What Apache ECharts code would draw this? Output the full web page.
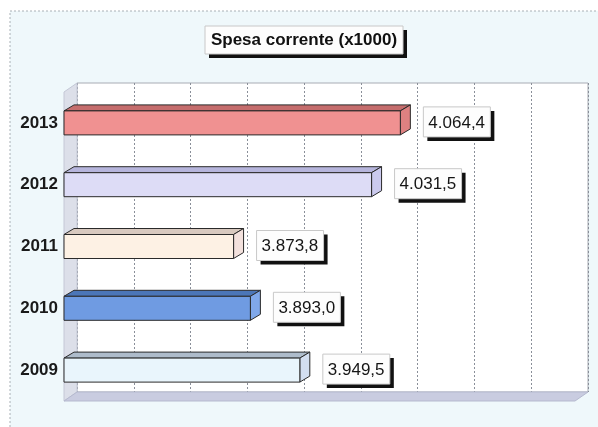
<!DOCTYPE html>
<html>
<head>
<meta charset="utf-8">
<script src="https://cdn.jsdelivr.net/npm/echarts@6/dist/echarts.min.js"></script>
<style>
  html, body { margin: 0; padding: 0; background: #ffffff; }
  #chart { width: 598px; height: 427px; }
</style>
</head>
<body>
<div id="chart"></div>
<script>
// Spesa corrente (x1000), 2009–2013
const categories = ['2009', '2010', '2011', '2012', '2013'];
const values = [3949.5, 3893.0, 3873.8, 4031.5, 4064.4];
const titleText = 'Spesa corrente (x1000)';

// face colours per year: front, top, side
const barPalette = [
  ['#e9f5fc', '#aebccb', '#d3def0'],
  ['#6f9be2', '#4b76b8', '#80a8ea'],
  ['#fdf1e4', '#d8c9bf', '#f3e1dd'],
  ['#dddcf6', '#b6b5dc', '#cbcaee'],
  ['#f09191', '#c56d6d', '#de8181']
];

// value scale of the bar plane
const X_MIN = 3680, X_MAX = 4264;

// plot layout: front plane and back wall (3D depth offset)
const FRONT = { left: 64, top: 92, width: 511, height: 309 };
const DEPTH = { dx: 13, dy: -9 };
const BAR_DEPTH = { dx: 10, dy: -6 };
const BAR_H = 24;

function fmtIt(v) {
  const parts = v.toFixed(1).split('.');
  const int = parts[0].replace(/\B(?=(\d{3})+(?!\d))/g, '.');
  return int + ',' + parts[1];
}

const chart = echarts.init(document.getElementById('chart'), null, { renderer: 'canvas' });

const fx0 = FRONT.left, fx1 = FRONT.left + FRONT.width;
const fy0 = FRONT.top, fy1 = FRONT.top + FRONT.height;

const option = {
  backgroundColor: '#ffffff',
  animation: false,
  graphic: [
    // chart area background
    {
      type: 'rect', z: -10, silent: true,
      shape: { x: 10, y: 11, width: 600, height: 430 },
      style: { fill: '#eff8fb', stroke: '#a9b0b6', lineWidth: 1, lineDash: [2, 2] }
    },
    // left side wall
    {
      type: 'polygon', z: 1, silent: true,
      shape: { points: [[fx0, fy0], [fx0 + DEPTH.dx, fy0 + DEPTH.dy], [fx0 + DEPTH.dx, fy1 + DEPTH.dy], [fx0, fy1]] },
      style: { fill: '#dcdfe9', stroke: '#c4c8d6', lineWidth: 1 }
    },
    // floor
    {
      type: 'polygon', z: 1, silent: true,
      shape: { points: [[fx0, fy1], [fx1, fy1], [fx1 + DEPTH.dx, fy1 + DEPTH.dy], [fx0 + DEPTH.dx, fy1 + DEPTH.dy]] },
      style: { fill: '#c9cce0', stroke: '#b5b9cf', lineWidth: 1 }
    },
    // title box
    {
      type: 'group', z: 20,
      children: [
        { type: 'rect', shape: { x: 209, y: 30, width: 198, height: 28 }, style: { fill: '#111111' } },
        { type: 'rect', shape: { x: 205, y: 26, width: 198, height: 28 }, style: { fill: '#fdfdfd', stroke: '#c8c8c8', lineWidth: 1 } },
        {
          type: 'text', style: {
            x: 304, y: 40, text: titleText, fill: '#111111',
            font: 'bold 17px "Liberation Sans", Arial, sans-serif',
            textAlign: 'center', textVerticalAlign: 'middle'
          }
        }
      ]
    }
  ],
  grid: [
    { left: FRONT.left, top: FRONT.top, width: FRONT.width, height: FRONT.height, show: false },
    {
      left: FRONT.left + DEPTH.dx, top: FRONT.top + DEPTH.dy, width: FRONT.width, height: FRONT.height,
      show: true, backgroundColor: '#ffffff', borderColor: '#a8acb4', borderWidth: 1, z: 0
    }
  ],
  xAxis: [
    { type: 'value', gridIndex: 0, min: X_MIN, max: X_MAX, show: false },
    {
      type: 'value', gridIndex: 1, min: 0, max: 9, interval: 1,
      axisLine: { show: false }, axisTick: { show: false }, axisLabel: { show: false },
      splitLine: { show: true, lineStyle: { color: '#8a8f99', width: 1, type: [2, 2] } }
    }
  ],
  yAxis: [
    {
      type: 'category', gridIndex: 0, data: categories,
      axisLine: { show: false }, axisTick: { show: false }, splitLine: { show: false },
      axisLabel: {
        margin: 6, color: '#1a1a1a',
        fontFamily: '"Liberation Sans", Arial, sans-serif', fontWeight: 'bold', fontSize: 17
      }
    },
    { type: 'value', gridIndex: 1, min: 0, max: 1, show: false }
  ],
  series: [
    {
      type: 'custom',
      xAxisIndex: 0, yAxisIndex: 0, z: 5,
      encode: { x: 0, y: 1 },
      data: values.map((v, i) => [v, i]),
      renderItem: function (params, api) {
        const v = api.value(0);
        const c = api.value(1);
        const p0 = api.coord([X_MIN, c]);
        const p1 = api.coord([v, c]);
        const x0 = p0[0], x1 = p1[0];
        const yT = p1[1] - BAR_H / 2, yB = yT + BAR_H;
        const col = barPalette[c];
        const dx = BAR_DEPTH.dx, dy = BAR_DEPTH.dy;
        const edge = { stroke: '#2a2a2a', lineWidth: 1 };
        const lx = x1 + dx + 13, ly = p1[1] - 16, lw = 67, lh = 30;
        return {
          type: 'group',
          children: [
            { type: 'polygon', shape: { points: [[x0, yT], [x1, yT], [x1 + dx, yT + dy], [x0 + dx, yT + dy]] },
              style: Object.assign({ fill: col[1] }, edge) },
            { type: 'polygon', shape: { points: [[x1, yT], [x1 + dx, yT + dy], [x1 + dx, yB + dy], [x1, yB]] },
              style: Object.assign({ fill: col[2] }, edge) },
            { type: 'rect', shape: { x: x0, y: yT, width: x1 - x0, height: BAR_H },
              style: Object.assign({ fill: col[0] }, edge) },
            // value label box with drop shadow
            { type: 'rect', shape: { x: lx + 4, y: ly + 4, width: lw, height: lh }, style: { fill: '#111111' } },
            { type: 'rect', shape: { x: lx, y: ly, width: lw, height: lh },
              style: { fill: '#fdfdfd', stroke: '#c8c8c8', lineWidth: 1 } },
            { type: 'text', style: {
                x: lx + 5, y: ly + lh / 2 + 1, text: fmtIt(v), fill: '#151515',
                font: '17px "Liberation Sans", Arial, sans-serif',
                textAlign: 'left', textVerticalAlign: 'middle'
              } }
          ]
        };
      }
    }
  ]
};

chart.setOption(option);
</script>
</body>
</html>
